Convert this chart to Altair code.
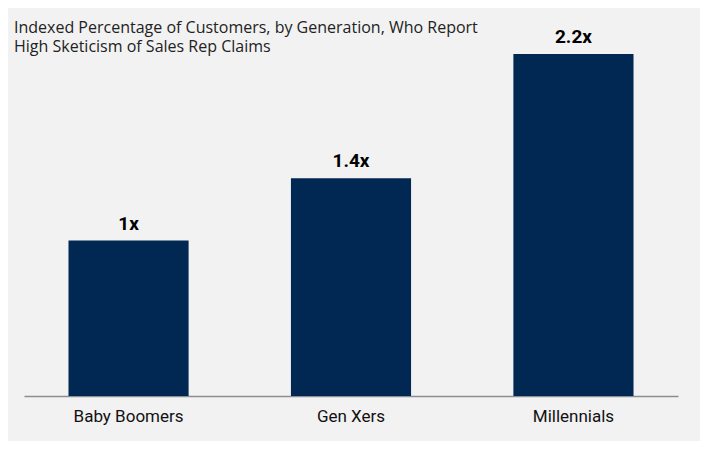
import altair as alt
import pandas as pd

categories = ["Baby Boomers", "Gen Xers", "Millennials"]
values = [1.0, 1.4, 2.2]
labels = ["1x", "1.4x", "2.2x"]

df = pd.DataFrame({"gen": categories, "value": values, "label": labels})

base = alt.Chart(df).encode(
    x=alt.X("gen:N", sort=categories, title=None,
            scale=alt.Scale(paddingInner=0.46, paddingOuter=0.2),
            axis=alt.Axis(labelAngle=0, ticks=False, domainColor="#8a8f94", domainWidth=1.5,
                          labelFont="Roboto", labelFontSize=17, labelColor="#111111",
                          labelPadding=12)),
    y=alt.Y("value:Q", scale=alt.Scale(domain=[0, 2.29]), axis=None),
)

bars = base.mark_bar(color="#002852")
text = base.mark_text(baseline="bottom", dy=-7, font="Roboto", fontSize=19,
                      fontWeight="bold", color="#000000").encode(text="label:N")

chart = (bars + text).properties(
    width=654, height=356,
    autosize=alt.AutoSizeParams(type="none"),
    padding={"left": 16, "top": 32, "right": 22, "bottom": 45},
    background="#f2f2f2",
    title=alt.Title(["Indexed Percentage of Customers, by Generation, Who Report",
                     "High Sketicism of Sales Rep Claims"],
                    anchor="start", dx=-10, font="Open Sans", fontSize=16,
                    fontWeight="normal", color="#222222", lineHeight=19, offset=-27),
).configure_view(stroke=None)

chart.save("out.html", embed_options={"renderer": "svg", "actions": False})
